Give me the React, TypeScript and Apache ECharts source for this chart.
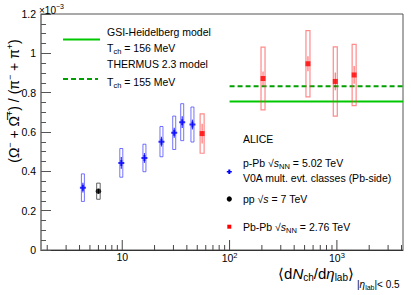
import React, { useEffect, useRef } from 'react';
import * as echarts from 'echarts';

// p-Pb sqrt(sNN)=5.02 TeV, V0A multiplicity classes (values in units of 1e-3)
const pPbMult = [4.3, 9.8, 16.1, 23.2, 30.5, 36.2, 45.1];
const pPbRatio = [0.317, 0.443, 0.468, 0.551, 0.596, 0.65, 0.638];
const pPbStat = [0.025, 0.03, 0.025, 0.025, 0.025, 0.03, 0.025];
const pPbSys = [0.07, 0.073, 0.07, 0.077, 0.085, 0.094, 0.089];

// pp sqrt(s)=7 TeV
const ppMult = [6.0];
const ppRatio = [0.299];
const ppStat = [0.012];
const ppSys = [0.041];

// Pb-Pb sqrt(sNN)=2.76 TeV
const PbPbMult = [55.5, 205, 537.5, 966, 1447.5];
const PbPbRatio = [0.592, 0.872, 0.947, 0.857, 0.89];
const PbPbStat = [0.05, 0.035, 0.038, 0.045, 0.045];
const PbPbSys = [0.1, 0.16, 0.168, 0.176, 0.156];

// thermal model predictions
const modelNames = ['GSI-Heidelberg model', 'THERMUS 2.3 model'];
const modelTch = [156, 155];
const modelRatio = [0.755, 0.833];
const modelFrom = 100;

const xMin = 1.75;
const xMax = 4130;
const yMin = 0;
const yMax = 1.2;
const yStep = 0.2;

const FONT = '"Liberation Sans", Arial, Helvetica, sans-serif';

function xTickValues(): number[] {
  const out: number[] = [];
  for (let k = 0; k <= 3; k++) {
    for (let m = 1; m <= 9; m++) {
      const v = m * Math.pow(10, k);
      if (v > xMin && v < xMax) out.push(v);
    }
  }
  return out;
}

function boxSeries(name: string, xs: number[], ys: number[], stat: number[], sys: number[], boxW: number, boxColor: string, statColor: string, lw: number) {
  return {
    name,
    type: 'custom',
    silent: true,
    z: 3,
    encode: { x: 0, y: 1 },
    data: xs.map((x, i) => [x, ys[i], stat[i], sys[i]]),
    renderItem: (params: any, api: any) => {
      const x = api.value(0);
      const y = api.value(1);
      const st = api.value(2);
      const sy = api.value(3);
      const top = api.coord([x, y + sy]);
      const bot = api.coord([x, y - sy]);
      const s1 = api.coord([x, y + st]);
      const s2 = api.coord([x, y - st]);
      return {
        type: 'group',
        children: [
          {
            type: 'rect',
            shape: { x: top[0] - boxW / 2, y: top[1], width: boxW, height: bot[1] - top[1] },
            style: { fill: 'none', stroke: boxColor, lineWidth: lw },
          },
          {
            type: 'line',
            shape: { x1: s1[0], y1: s1[1], x2: s2[0], y2: s2[1] },
            style: { stroke: statColor, lineWidth: 1.2 },
          },
        ],
      };
    },
  };
}

const PLUS = 'path://M2,0H4V2H6V4H4V6H2V4H0V2H2Z';

export default function App() {
  const ref = useRef<HTMLDivElement>(null);
  useEffect(() => {
    if (!ref.current) return;
    const chart = echarts.init(ref.current, undefined, { renderer: 'svg' });
    const legTxt = (text: string, x: number, y: number, size = 10.5) => ({
      type: 'text',
      x,
      y,
      style: {
        text,
        font: `${size}px ${FONT}`,
        fill: '#000',
        verticalAlign: 'middle',
        rich: {
          sub: { fontSize: 7.5, fontFamily: FONT, padding: [7, 0, 0, 0], fill: '#000' },
          it: { fontSize: size, fontFamily: FONT, fontStyle: 'italic', fill: '#000' },
          n: { fontSize: size, fontFamily: FONT, fill: '#000' },
        },
      },
    });
    const option: any = {
      animation: false,
      textStyle: { fontFamily: FONT },
      grid: { left: 41, right: 8, top: 14, bottom: 45, show: true, borderColor: '#555', borderWidth: 1, backgroundColor: 'transparent' },
      xAxis: {
        type: 'log',
        logBase: 10,
        min: xMin,
        max: xMax,
        splitLine: { show: false },
        axisLine: { lineStyle: { color: '#333', width: 1 } },
        axisTick: { show: false },
        axisLabel: {
          color: '#000',
          fontSize: 10.5,
          margin: 1,
          showMinLabel: false,
          showMaxLabel: false,
          formatter: (v: number) => {
            const l = Math.log10(v);
            const e = Math.round(l);
            if (Math.abs(l - e) > 1e-6) return '';
            if (e === 1) return '10';
            return '10{sup|' + e + '}';
          },
          rich: { sup: { fontSize: 7.5, padding: [0, 0, 5, 0], color: '#000' } },
        },
      },
      yAxis: {
        type: 'value',
        min: yMin,
        max: yMax,
        interval: yStep,
        splitLine: { show: false },
        axisLine: { lineStyle: { color: '#888', width: 1.5 } },
        axisTick: { inside: true, length: 10, lineStyle: { color: '#555' } },
        minorTick: { show: true, splitNumber: 4, length: 5, lineStyle: { color: '#555' } },
        axisLabel: { color: '#000', fontSize: 10.5, margin: 5 },
      },
      graphic: [
        // y axis title
        {
          type: 'text',
          x: 14,
          y: 101,
          rotation: Math.PI / 2,
          style: {
            text: '(Ω{sup|−} + Ω̅{sup|+}) / (π{sup|−} + π{sup|+})',
            font: `14px ${FONT}`,
            fill: '#000',
            align: 'center',
            verticalAlign: 'middle',
            rich: {
              sup: { fontSize: 9, fontFamily: FONT, padding: [0, 0, 9, 0], fill: '#000' },
            },
          },
        },
        // exponent
        {
          type: 'text',
          x: 39,
          y: 10,
          style: {
            text: '×10{sup|−3}',
            font: `10px ${FONT}`,
            fill: '#000',
            verticalAlign: 'middle',
            rich: { sup: { fontSize: 7, fontFamily: FONT, padding: [0, 0, 8, 0], fill: '#000' } },
          },
        },
        // x axis title, main part
        {
          type: 'text',
          x: 354,
          y: 273,
          style: {
            text: '{a|⟨d}{ai|N}{s|ch}{a|/d}{ai|η}{s|lab}{a|⟩}',
            font: `15px ${FONT}`,
            fill: '#000',
            align: 'right',
            verticalAlign: 'middle',
            rich: {
              a: { fontSize: 15, fontFamily: FONT, fill: '#000' },
              ai: { fontSize: 15, fontFamily: FONT, fontStyle: 'italic', fill: '#000' },
              s: { fontSize: 10, fontFamily: FONT, padding: [9, 0, 0, 0], fill: '#000' },
            },
          },
        },
        // x axis title, range subscript
        {
          type: 'text',
          x: 357,
          y: 284.5,
          style: {
            text: '{t||}{ti|η}{u|lab}{t||< 0.5}',
            font: `10px ${FONT}`,
            fill: '#000',
            verticalAlign: 'middle',
            rich: {
              t: { fontSize: 10, fontFamily: FONT, fill: '#000' },
              ti: { fontSize: 10, fontFamily: FONT, fontStyle: 'italic', fill: '#000' },
              u: { fontSize: 7, fontFamily: FONT, padding: [6, 0, 0, 0], fill: '#000' },
            },
          },
        },
        // model legend
        { type: 'line', shape: { x1: 63, y1: 39.5, x2: 100, y2: 39.5 }, style: { stroke: '#00c800', lineWidth: 2 } },
        { type: 'line', shape: { x1: 63, y1: 79, x2: 98, y2: 79 }, style: { stroke: '#00a000', lineWidth: 2, lineDash: [5, 3] } },
        legTxt(modelNames[0], 107, 32),
        legTxt(`{n|T}{sub|ch}{n| = ${modelTch[0]} MeV}`, 107, 48),
        legTxt(modelNames[1], 107, 64),
        legTxt(`{n|T}{sub|ch}{n| = ${modelTch[1]} MeV}`, 107, 82),
        // data legend
        legTxt('ALICE', 243, 139),
        legTxt('{n|p-Pb √}{it|s}{sub|NN}{n| = 5.02 TeV}', 243, 162.7),
        legTxt('V0A mult. evt. classes (Pb-side)', 243, 178.3),
        legTxt('{n|pp √}{it|s}{n| = 7 TeV}', 243, 199),
        legTxt('{n|Pb-Pb √}{it|s}{sub|NN}{n| = 2.76 TeV}', 243, 226.7),
        {
          type: 'polygon',
          shape: {
            points: [
              [228.3, 169.5], [230.3, 169.5], [230.3, 171], [231.8, 171], [231.8, 172.6], [230.3, 172.6],
              [230.3, 174], [228.3, 174], [228.3, 172.6], [226.8, 172.6], [226.8, 171], [228.3, 171],
            ],
          },
          style: { fill: '#0000ff' },
        },
        { type: 'circle', shape: { cx: 229.3, cy: 199, r: 2.6 }, style: { fill: '#000' } },
        { type: 'rect', shape: { x: 227.3, y: 224.7, width: 4, height: 4 }, style: { fill: '#ff0000' } },
      ],
      series: [
        {
          name: 'x ticks',
          type: 'custom',
          silent: true,
          z: 1,
          encode: { x: 0, y: 1 },
          data: xTickValues().map((v) => [v, yMin]),
          renderItem: (params: any, api: any) => {
            const v = api.value(0);
            const p = api.coord([v, yMin]);
            const l = Math.log10(v);
            const major = Math.abs(l - Math.round(l)) < 1e-9;
            return {
              type: 'line',
              shape: { x1: p[0], y1: p[1], x2: p[0], y2: p[1] - (major ? 10 : 5) },
              style: { stroke: '#444', lineWidth: 1 },
            };
          },
        },
        {
          name: modelNames[0],
          type: 'line',
          symbol: 'none',
          z: 2,
          data: [[modelFrom, modelRatio[0]], [xMax, modelRatio[0]]],
          lineStyle: { color: '#00c800', width: 2 },
        },
        {
          name: modelNames[1],
          type: 'line',
          symbol: 'none',
          z: 2,
          data: [[modelFrom, modelRatio[1]], [xMax, modelRatio[1]]],
          lineStyle: { color: '#00a000', width: 2, type: [5, 3] },
        },
        boxSeries('p-Pb sys', pPbMult, pPbRatio, pPbStat, pPbSys, 3, 'rgba(40,40,255,0.65)', 'rgba(0,0,255,0.8)', 1),
        boxSeries('pp sys', ppMult, ppRatio, ppStat, ppSys, 3.5, 'rgba(60,60,60,0.8)', '#000', 1),
        boxSeries('Pb-Pb sys', PbPbMult, PbPbRatio, PbPbStat, PbPbSys, 4, 'rgba(255,60,60,0.6)', 'rgba(255,0,0,0.55)', 1.2),
        {
          name: 'p-Pb',
          type: 'scatter',
          z: 5,
          symbol: PLUS,
          symbolSize: 6,
          itemStyle: { color: '#0000ff' },
          data: pPbMult.map((x, i) => [x, pPbRatio[i]]),
        },
        {
          name: 'pp',
          type: 'scatter',
          z: 5,
          symbol: 'circle',
          symbolSize: 5.5,
          itemStyle: { color: '#000' },
          data: ppMult.map((x, i) => [x, ppRatio[i]]),
        },
        {
          name: 'Pb-Pb',
          type: 'scatter',
          z: 5,
          symbol: 'rect',
          symbolSize: 5,
          itemStyle: { color: '#ff0000' },
          data: PbPbMult.map((x, i) => [x, PbPbRatio[i]]),
        },
      ],
    };
    chart.setOption(option);
    return () => chart.dispose();
  }, []);
  return (
    <div
      ref={ref}
      style={{ position: 'fixed', left: 0, top: 0, width: 411, height: 295, background: '#fff' }}
    />
  );
}
